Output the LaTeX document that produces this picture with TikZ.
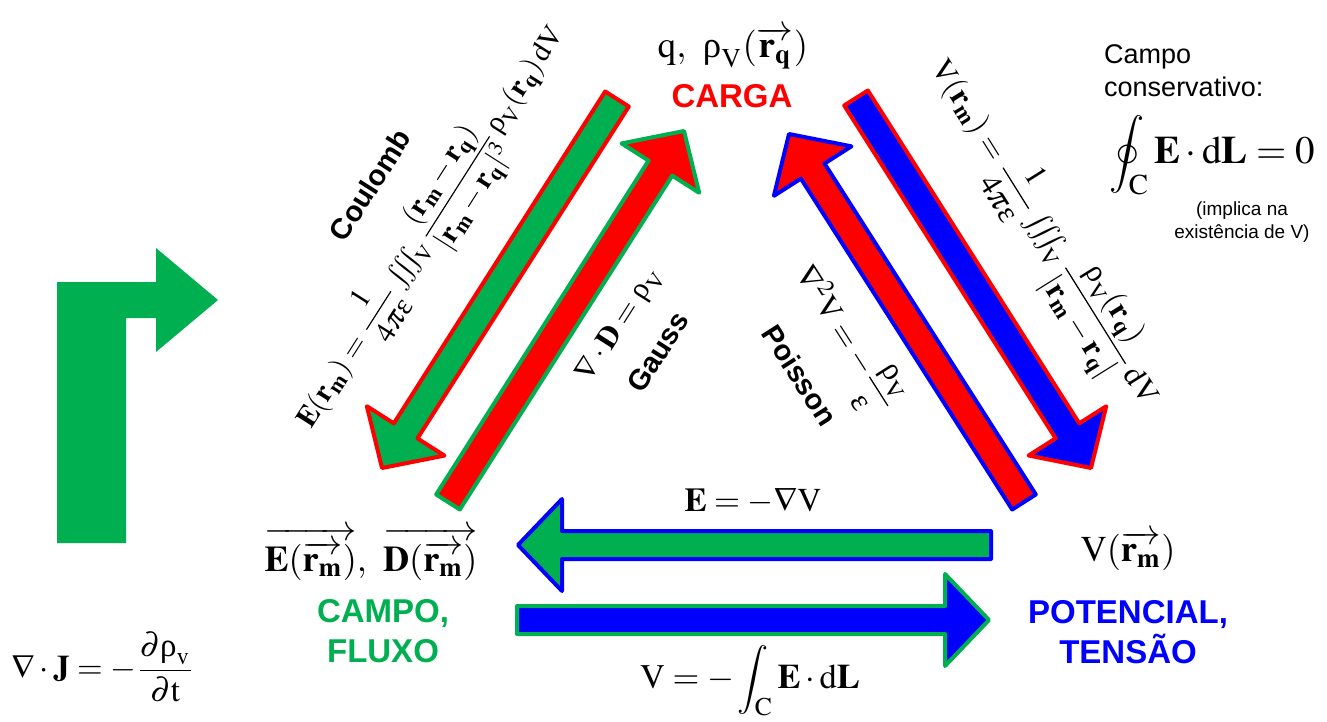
\documentclass[tikz,border=0pt]{standalone}
\usepackage{amsmath}
\usepackage{mathptmx}
\usepackage[no-math]{fontspec}
\setsansfont{Liberation Sans}
\newfontfamily\tms{Liberation Serif}
\usepackage{graphicx}
\usetikzlibrary{calc}
\definecolor{cgreen}{HTML}{00B050}
\definecolor{cred}{HTML}{FF0000}
\definecolor{cblue}{HTML}{0000FF}
\newcommand\urho{\text{\tms ρ}}
\newcommand\ueps{\text{\tms ε}}
\newcommand\vr[1]{\mathbf{r}_{\mathbf{#1}}}
\tikzset{
  blockarrow/.style={line width=4pt, line join=round},
  concept/.style={font=\sffamily\bfseries\fontsize{33}{40}\selectfont, align=center, inner sep=0pt},
  lawlbl/.style={font=\sffamily\bfseries\fontsize{29}{34}\selectfont, inner sep=0pt},
  eq/.style={inner sep=0pt},
}
\newcommand\blockarrow[4]{%
  \path ($(#2)!44pt!(#1)$) coordinate (bah);
  \filldraw[blockarrow,fill=#3,draw=#4]
    ($(#1)!14pt!90:(#2)$) -- ($(bah)!14pt!90:(#2)$) -- ($(bah)!46pt!90:(#2)$) -- (#2)
    -- ($(bah)!46pt!-90:(#2)$) -- ($(bah)!14pt!-90:(#2)$) -- ($(#1)!14pt!-90:(#2)$) -- cycle;
}
\begin{document}
\begin{tikzpicture}[x=1pt,y=-1pt]
\useasboundingbox (0,0) rectangle (1327,722);

% arrow end points
\coordinate (a1s) at (617,99);
\coordinate (a1e) at (382,468);
\coordinate (a2s) at (448,502);
\coordinate (a2e) at (684,131);
\coordinate (a3s) at (856,98);
\coordinate (a3e) at (1091,468);
\coordinate (a4s) at (1024,502);
\coordinate (a4e) at (789,134);
\coordinate (a5s) at (991,545);
\coordinate (a5e) at (518,545);
\coordinate (a6s) at (517,620);
\coordinate (a6e) at (989,620);

\blockarrow{a1s}{a1e}{cgreen}{cred}
\blockarrow{a2s}{a2e}{cred}{cgreen}
\blockarrow{a3s}{a3e}{cblue}{cred}
\blockarrow{a4s}{a4e}{cred}{cblue}
\blockarrow{a5s}{a5e}{cgreen}{cblue}
\blockarrow{a6s}{a6e}{cblue}{cgreen}

% L-shaped arrow
\fill[cgreen] (57,543) -- (57,282) -- (156,282) -- (156,248) -- (218,300) -- (156,352)
  -- (156,318) -- (126,318) -- (126,543) -- cycle;

% concepts
\node[eq] (cargam) at (733,48) {\resizebox{150pt}{!}{$\mathrm{q},\ \urho_{\mathrm{V}}(\overrightarrow{\vr{q}})$}};
\node[concept, text=cred] (carga) at (732,96) {CARGA};
\node[eq] (campom) at (371,554) {\resizebox{213pt}{!}{$\overrightarrow{\mathbf{E}(\overrightarrow{\vr{m}})},\ \overrightarrow{\mathbf{D}(\overrightarrow{\vr{m}})}$}};
\node[concept, text=cgreen] (campo) at (383,631) {CAMPO,\\FLUXO};
\node[eq] (potm) at (1128,551) {\resizebox{95pt}{!}{$\mathrm{V}(\overrightarrow{\vr{m}})$}};
\node[concept, text=cblue] (pot) at (1128,632) {POTENCIAL,\\TENSÃO};

% laws
\node[eq, rotate=57.5] (coulf) at (432,228) {\resizebox{470pt}{!}{$\mathbf{E}(\vr{m}) = \dfrac{1}{4\pi\ueps}\iiint_{\mathrm{V}}\dfrac{(\vr{m}-\vr{q})}{|\vr{m}-\vr{q}|^{3}}\,\urho_{\mathrm{V}}(\vr{q})\,\mathrm{dV}$}};
\node[lawlbl, rotate=57.5] (coul) at (370,185) {Coulomb};
\node[eq, rotate=57.5] (gaussf) at (620,325) {\resizebox{130pt}{!}{$\nabla\cdot\mathbf{D} = \urho_{\mathrm{V}}$}};
\node[lawlbl, rotate=57.5] (gauss) at (658,352) {Gauss};
\node[eq, rotate=-58] (potf) at (1043,233) {\resizebox{400pt}{!}{$\mathrm{V}(\vr{m}) = \dfrac{1}{4\pi\ueps}\iiint_{\mathrm{V}}\dfrac{\urho_{\mathrm{V}}(\vr{q})}{|\vr{m}-\vr{q}|}\,\mathrm{dV}$}};
\node[eq, rotate=-57.5] (poisf) at (845,340) {\resizebox{165pt}{!}{$\nabla^{2}\mathrm{V} = -\dfrac{\urho_{\mathrm{V}}}{\ueps}$}};
\node[lawlbl, rotate=-57.5] (pois) at (800,375) {Poisson};
\node[eq] (gradf) at (753,501) {\resizebox{137pt}{!}{$\mathbf{E} = -\nabla\mathrm{V}$}};
\node[eq] (intf) at (750,681) {\resizebox{220pt}{!}{$\mathrm{V} = -\displaystyle\int_{\mathrm{C}}\mathbf{E}\cdot\mathrm{d}\mathbf{L}$}};
\node[eq] (contf) at (103,667) {\resizebox{183pt}{!}{$\nabla\cdot\mathbf{J} = -\dfrac{\partial\urho_{\mathrm{v}}}{\partial\mathrm{t}}$}};

% conservative field
\node[anchor=north west, align=left, inner sep=0pt, font=\sffamily\fontsize{27}{33}\selectfont] (cons) at (1104,44) {Campo\\conservativo:};
\node[eq] (consf) at (1212,155) {\resizebox{205pt}{!}{$\displaystyle\oint_{\mathrm{C}}\mathbf{E}\cdot\mathrm{d}\mathbf{L} = 0$}};
\node[align=center, inner sep=0pt, font=\sffamily\fontsize{19}{23}\selectfont] (impl) at (1242,222) {(implica na\\existência de V)};
\end{tikzpicture}
\end{document}
